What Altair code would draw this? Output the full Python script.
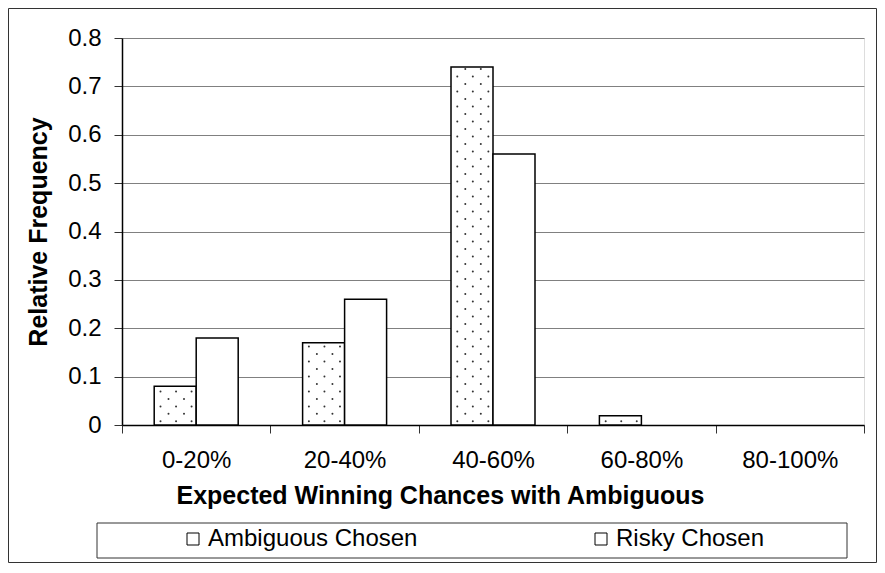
import json
import altair as alt
import pandas as pd

# ---- data ----
categories = ["0-20%", "20-40%", "40-60%", "60-80%", "80-100%"]
ambiguous = [0.08, 0.17, 0.74, 0.019, 0.0]
risky = [0.18, 0.26, 0.56, 0.0, 0.0]
series = ["Ambiguous Chosen", "Risky Chosen"]
y_ticks = [0, 0.1, 0.2, 0.3, 0.4, 0.5, 0.6, 0.7, 0.8]
x_title = "Expected Winning Chances with Ambiguous"
y_title = "Relative Frequency"

FONT = "Liberation Sans"
BW = 0.283  # bar width as fraction of a category band

rows = []
for i, c in enumerate(categories):
    rows.append(dict(cat=c, series=series[0], value=ambiguous[i], base=0.0,
                     x0=i + 0.5 - BW, x1=i + 0.5))
    rows.append(dict(cat=c, series=series[1], value=risky[i], base=0.0,
                     x0=i + 0.5, x1=i + 0.5 + BW))
bars = pd.DataFrame(rows)

# dotted texture for the "Ambiguous Chosen" bars (a fill pattern, derived from bar heights)
dot_rows = []
row_step = 0.0155
fr3 = [0.15, 0.52, 0.89]
fr2 = [0.34, 0.71]
for i, v in enumerate(ambiguous):
    if v <= 0:
        continue
    left = i + 0.5 - BW
    k = 0
    y = 0.0075
    while y <= v - 0.003:
        for f in (fr3 if k % 2 == 0 else fr2):
            dot_rows.append(dict(dx=left + f * BW, dy=y))
        k += 1
        y = 0.0075 + k * row_step
dots = pd.DataFrame(dot_rows)

xscale = alt.Scale(domain=[0, 5], nice=False, zero=False)
yscale = alt.Scale(domain=[0, 0.8], nice=False, zero=False)

label_expr = "datum.value < 5 ? " + json.dumps(categories) + "[datum.value] : ''"

x_axis = alt.Axis(
    values=[0, 1, 2, 3, 4, 5], labelExpr=label_expr, labelOffset=74.2,
    labelFlush=False, labelOverlap=False, labelBound=False,
    tickSize=8, tickColor="#333333", labelPadding=15,
    labelFontSize=24, labelFont=FONT, labelColor="black",
    domainColor="black", domainWidth=1.5, grid=False,
    title=x_title, titleFont=FONT, titleFontSize=25, titleFontWeight="bold",
    titleColor="black", titleX=318, titleY=78, titleAlign="center",
    titleBaseline="alphabetic",
)
y_axis = alt.Axis(
    values=y_ticks, format=".1~f", tickSize=8, tickColor="#333333",
    labelPadding=13, labelFontSize=24, labelFont=FONT, labelColor="black",
    domainColor="black", domainWidth=1.5, grid=True, gridColor="#808080",
    gridWidth=1, title=y_title, titleFont=FONT, titleFontSize=25,
    titleFontWeight="bold", titleColor="black", titleX=-76, titleY=193.5,
    titleAngle=-90, titleAlign="center", titleBaseline="alphabetic",
)

bar_layer = alt.Chart(bars).transform_filter("datum.value > 0").mark_rect(
    stroke="black", strokeWidth=1.5
).encode(
    x=alt.X("x0:Q", scale=xscale, axis=x_axis),
    x2="x1:Q",
    y=alt.Y("value:Q", scale=yscale, axis=y_axis),
    y2="base:Q",
    fill=alt.Fill(
        "series:N",
        scale=alt.Scale(domain=series, range=["white", "white"]),
        legend=alt.Legend(
            orient="none", legendX=59, legendY=489, direction="horizontal",
            columns=2, columnPadding=171, gridAlign="all", symbolType="square",
            symbolSize=144, symbolStrokeColor="black", symbolStrokeWidth=1,
            symbolFillColor="white", labelFontSize=24, labelFont=FONT,
            labelColor="black", labelOffset=3, labelLimit=500, title=None,
            padding=0,
        ),
    ),
)

dot_layer = alt.Chart(dots).mark_circle(size=4, color="#333333", opacity=1).encode(
    x=alt.X("dx:Q", scale=xscale),
    y=alt.Y("dy:Q", scale=yscale),
)

one = pd.DataFrame({"a": [0]})
legend_box = alt.Chart(one).mark_rect(
    fill="transparent", stroke="#333333", strokeWidth=1
).encode(
    x=alt.value(-25), x2=alt.value(725), y=alt.value(485), y2=alt.value(520)
)
outer_box = alt.Chart(one).mark_rect(
    fill="transparent", stroke="#333333", strokeWidth=1
).encode(
    x=alt.value(-113.5), x2=alt.value(754.5), y=alt.value(-29.5), y2=alt.value(524.5)
)

chart = alt.layer(bar_layer, dot_layer, legend_box, outer_box).properties(
    width=742, height=387,
    padding={"left": 114, "top": 30, "right": 13, "bottom": 138},
    autosize=alt.AutoSizeParams(type="none"),
).configure_view(
    stroke="black", strokeWidth=1.5
).configure(
    font=FONT, background="white"
)

chart.save("out.html", embed_options={"renderer": "svg", "actions": False})
